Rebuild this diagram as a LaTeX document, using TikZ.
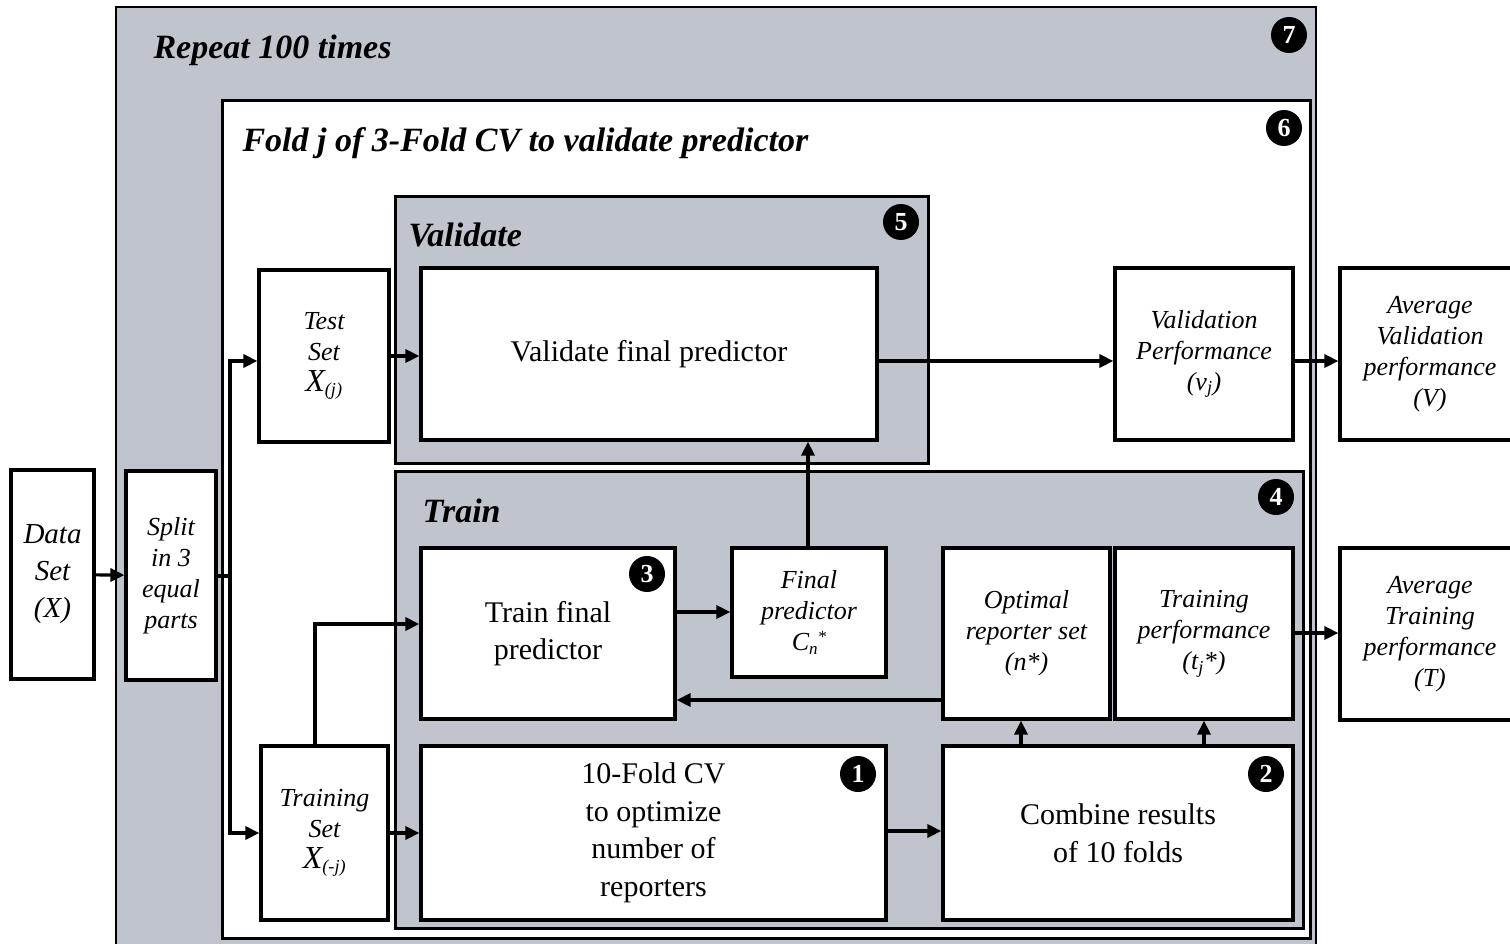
\documentclass[tikz,border=0pt]{standalone}
\usepackage{fontspec}
\setmainfont{Liberation Serif}
\usetikzlibrary{arrows.meta}
\definecolor{panel}{RGB}{192,196,204}
\tikzset{
  box/.style={draw=black, line width=3.2pt, fill=white, inner sep=2pt, align=center},
  itx/.style={font=\fontsize{26}{31}\selectfont\itshape},
  upx/.style={font=\fontsize{30}{37.5}\selectfont},
  head/.style={font=\fontsize{34}{38}\selectfont\bfseries\itshape, anchor=west},
  badge/.style={circle, fill=black, text=white, inner sep=0pt, minimum size=36pt,
                font=\fontsize{26}{26}\selectfont\bfseries},
  conn/.style={line width=3.2pt, -{Triangle[length=14pt,width=13pt]}},
  line/.style={line width=3.2pt},
}
\begin{document}
\begin{tikzpicture}[x=1pt,y=-1pt]
\useasboundingbox (0,0) rectangle (1510,944);

% nested panels
\draw[line width=2.2pt, fill=panel] (116,7) rectangle (1316,960);
\draw[line width=3pt, fill=white] (222,101) rectangle (1310,938);
\draw[line width=3pt, fill=panel] (395,197) rectangle (928,463);
\draw[line width=3pt, fill=panel] (395,471) rectangle (1303,928);

\node[head] (trepeat) at (150,50) {Repeat 100 times};
\node[head] (tfold) at (239,143) {Fold j of 3-Fold CV to validate predictor};
\node[head] (tval) at (405,235) {Validate};
\node[head] (ttrain) at (419,511) {Train};

\node[badge] (b7) at (1289,35) {7};
\node[badge] (b6) at (1284,128) {6};
\node[badge] (b5) at (901,222) {5};
\node[badge] (b4) at (1276,497) {4};

% process boxes
\node[box, font=\fontsize{29}{37}\selectfont\itshape, minimum width=83pt, minimum height=209pt] (data) at (52.5,574.5) {Data\\Set\\(X)};
\node[box, itx, minimum width=90pt, minimum height=209pt] (split) at (171,575.5) {Split\\in 3\\equal\\parts};
\node[box, itx, minimum width=130pt, minimum height=172pt] (test) at (324,356) {Test\\Set\\{\fontsize{32}{31}\selectfont X}\textsubscript{(j)}};
\node[box, itx, minimum width=127pt, minimum height=174pt] (trainset) at (324.5,833) {Training\\Set\\{\fontsize{32}{31}\selectfont X}\textsubscript{(-j)}};
\node[box, upx, minimum width=456pt, minimum height=172pt] (valfinal) at (649,354) {Validate final predictor};
\node[box, itx, minimum width=178pt, minimum height=172pt] (valperf) at (1204,354) {Validation\\Performance\\(v\textsubscript{j})};
\node[box, itx, minimum width=180pt, minimum height=172pt] (avgval) at (1430,354) {Average\\Validation\\performance\\(V)};
\node[box, upx, minimum width=254pt, minimum height=171pt] (trainfinal) at (548,633.5) {Train final\\predictor};
\node[box, itx, minimum width=154pt, minimum height=129pt] (finalpred) at (809,612.5) {Final\\predictor\\C\raisebox{-0.35ex}{\fontsize{17}{17}\selectfont n}\raisebox{0.7ex}{\fontsize{17}{17}\selectfont *}};
\node[box, itx, minimum width=167pt, minimum height=171pt] (optimal) at (1026.5,633.5) {Optimal\\reporter set\\(n*)};
\node[box, itx, minimum width=178pt, minimum height=171pt] (trainperf) at (1204,633.5) {Training\\performance\\(t\textsubscript{j}*)};
\node[box, itx, minimum width=180pt, minimum height=172pt] (avgtrain) at (1430,634) {Average\\Training\\performance\\(T)};
\node[box, upx, minimum width=465pt, minimum height=174pt] (cv) at (653.5,833) {10-Fold CV\\to optimize\\number of\\reporters};
\node[box, upx, minimum width=350pt, minimum height=174pt] (combine) at (1118,833) {Combine results\\of 10 folds};

\node[badge] (b3) at (647,574) {3};
\node[badge] (b1) at (858,774) {1};
\node[badge] (b2) at (1266,774) {2};

% connectors
\coordinate (fork) at (230,576);
\draw[conn] (data) -- (split);
\draw[line] (split.east |- fork) -- (fork);
\draw[conn] (fork) |- (test.west |- 0,361);
\draw[conn] (fork) |- (trainset.west |- 0,833);
\draw[conn] (test.east |- 0,356) -- (valfinal.west |- 0,356);
\draw[conn] (valfinal.east |- 0,361) -- (valperf.west |- 0,361);
\draw[conn] (valperf.east |- 0,361) -- (avgval.west |- 0,361);
\draw[conn] (trainset.north -| 315,0) |- (trainfinal.west |- 0,624);
\draw[conn] (trainset.east) -- (cv.west |- trainset.east);
\draw[conn] (cv.east |- 0,831) -- (combine.west |- 0,831);
\draw[conn] (combine.north -| 1021,0) -- (optimal.south -| 1021,0);
\draw[conn] (combine.north -| trainperf) -- (trainperf.south);
\draw[conn] (optimal.west |- 0,700) -- (trainfinal.east |- 0,700);
\draw[conn] (trainfinal.east |- 0,612) -- (finalpred.west |- 0,612);
\draw[conn] (finalpred.north -| 808,0) -- (valfinal.south -| 808,0);
\draw[conn] (trainperf.east |- 0,633) -- (avgtrain.west |- 0,633);
\end{tikzpicture}
\end{document}
